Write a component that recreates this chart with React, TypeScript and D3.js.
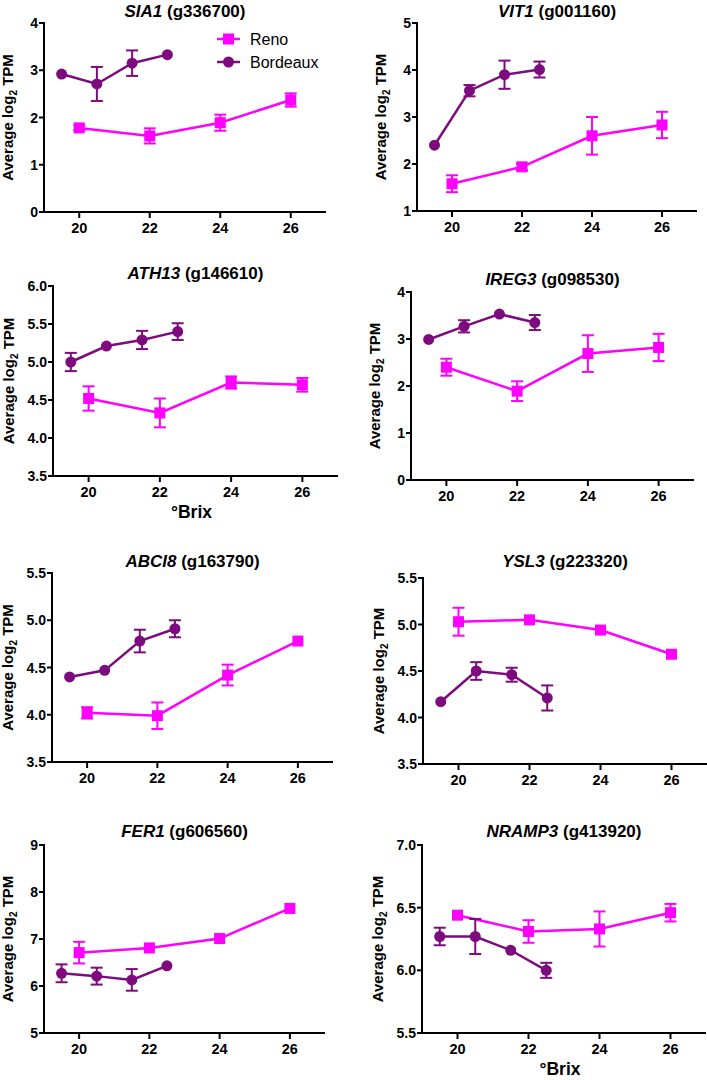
import React from "react";
import * as d3 from "d3";

// ---------- data ----------
const xReno = [20, 22, 24, 26];
const xBordeaux = [19.5, 20.5, 21.5, 22.5];
const xTicks = [20, 22, 24, 26];

const genes = ["SIA1", "VIT1", "ATH13", "IREG3", "ABCI8", "YSL3", "FER1", "NRAMP3"];
const geneIds = ["g336700", "g001160", "g146610", "g098530", "g163790", "g223320", "g606560", "g413920"];

const yDomains = [[0, 4], [1, 5], [3.5, 6], [0, 4], [3.5, 5.5], [3.5, 5.5], [5, 9], [5.5, 7]];
const yTickSteps = [1, 1, 0.5, 1, 0.5, 0.5, 1, 0.5];
const yTickDecimals = [0, 0, 1, 0, 1, 1, 0, 1];

const renoSIA1 = [1.78, 1.61, 1.89, 2.37];
const renoSIA1Err = [0.05, 0.16, 0.17, 0.14];
const bordeauxSIA1 = [2.92, 2.71, 3.15, 3.33];
const bordeauxSIA1Err = [0, 0.36, 0.27, 0];

const renoVIT1 = [1.58, 1.94, 2.6, 2.83];
const renoVIT1Err = [0.18, 0.07, 0.4, 0.28];
const bordeauxVIT1 = [2.4, 3.56, 3.9, 4.01];
const bordeauxVIT1Err = [0, 0.12, 0.3, 0.17];

const renoATH13 = [4.52, 4.33, 4.73, 4.7];
const renoATH13Err = [0.16, 0.19, 0.08, 0.09];
const bordeauxATH13 = [5.0, 5.21, 5.29, 5.4];
const bordeauxATH13Err = [0.12, 0, 0.12, 0.11];

const renoIREG3 = [2.4, 1.89, 2.69, 2.82];
const renoIREG3Err = [0.18, 0.21, 0.39, 0.29];
const bordeauxIREG3 = [2.99, 3.27, 3.53, 3.35];
const bordeauxIREG3Err = [0, 0.13, 0, 0.16];

const renoABCI8 = [4.02, 3.99, 4.42, 4.78];
const renoABCI8Err = [0.06, 0.14, 0.11, 0];
const bordeauxABCI8 = [4.4, 4.47, 4.78, 4.91];
const bordeauxABCI8Err = [0, 0, 0.12, 0.09];

const renoYSL3 = [5.03, 5.05, 4.94, 4.68];
const renoYSL3Err = [0.15, 0, 0, 0];
const bordeauxYSL3 = [4.17, 4.5, 4.46, 4.21];
const bordeauxYSL3Err = [0, 0.095, 0.075, 0.135];

const renoFER1 = [6.71, 6.81, 7.01, 7.65];
const renoFER1Err = [0.23, 0, 0, 0];
const bordeauxFER1 = [6.27, 6.21, 6.13, 6.43];
const bordeauxFER1Err = [0.19, 0.18, 0.23, 0];

const renoNRAMP3 = [6.44, 6.31, 6.33, 6.46];
const renoNRAMP3Err = [0, 0.09, 0.14, 0.07];
const bordeauxNRAMP3 = [6.27, 6.27, 6.16, 6.0];
const bordeauxNRAMP3Err = [0.07, 0.14, 0, 0.06];

const renoMeans = [renoSIA1, renoVIT1, renoATH13, renoIREG3, renoABCI8, renoYSL3, renoFER1, renoNRAMP3];
const renoErrs = [renoSIA1Err, renoVIT1Err, renoATH13Err, renoIREG3Err, renoABCI8Err, renoYSL3Err, renoFER1Err, renoNRAMP3Err];
const bordeauxMeans = [bordeauxSIA1, bordeauxVIT1, bordeauxATH13, bordeauxIREG3, bordeauxABCI8, bordeauxYSL3, bordeauxFER1, bordeauxNRAMP3];
const bordeauxErrs = [bordeauxSIA1Err, bordeauxVIT1Err, bordeauxATH13Err, bordeauxIREG3Err, bordeauxABCI8Err, bordeauxYSL3Err, bordeauxFER1Err, bordeauxNRAMP3Err];

const seriesNames = ["Reno", "Bordeaux"];

// ---------- layout / style ----------
const W = 707;
const H = 1080;
const layouts = [
  { l: 44, r: 326, t: 23, b: 212, ty: 16.5, brix: false },
  { l: 417, r: 697, t: 23, b: 211, ty: 16.5, brix: false },
  { l: 53, r: 338, t: 286, b: 476, ty: 279, brix: true },
  { l: 411, r: 694, t: 292, b: 480, ty: 285, brix: false },
  { l: 52, r: 333, t: 573, b: 762, ty: 567, brix: false },
  { l: 423, r: 707, t: 578, b: 764, ty: 567, brix: false },
  { l: 44, r: 325, t: 845, b: 1033, ty: 837, brix: false },
  { l: 422, r: 706, t: 845, b: 1033, ty: 837, brix: true },
];
const RENO = "#ff00ff";
const BORD = "#7d0b7d";
const FONT = "'Liberation Sans', Arial, Helvetica, sans-serif";

function ErrorBars({ xs, ys, es, x, y, color }) {
  return (
    <g stroke={color} strokeWidth={2} fill="none">
      {xs.map((xv, i) =>
        es[i] > 0 ? (
          <g key={i}>
            <line x1={x(xv)} x2={x(xv)} y1={y(ys[i] - es[i])} y2={y(ys[i] + es[i])} />
            <line x1={x(xv) - 6} x2={x(xv) + 6} y1={y(ys[i] - es[i])} y2={y(ys[i] - es[i])} />
            <line x1={x(xv) - 6} x2={x(xv) + 6} y1={y(ys[i] + es[i])} y2={y(ys[i] + es[i])} />
          </g>
        ) : null
      )}
    </g>
  );
}

function Panel({ idx }) {
  const L = layouts[idx];
  const x = d3.scaleLinear().domain([19, 27]).range([L.l, L.r]);
  const y = d3.scaleLinear().domain(yDomains[idx]).range([L.b, L.t]);
  const [y0, y1] = yDomains[idx];
  const step = yTickSteps[idx];
  const yTicks = d3.range(y0, y1 + step / 2, step);
  const line = d3.line<number>();
  const renoPts = xReno.map((xv, i) => [x(xv), y(renoMeans[idx][i])] as [number, number]);
  const bordPts = xBordeaux.map((xv, i) => [x(xv), y(bordeauxMeans[idx][i])] as [number, number]);
  const dec = yTickDecimals[idx];
  const labelOffset = dec > 0 ? 44 : 36;
  const cx = (L.l + L.r) / 2;
  const cy = (L.t + L.b) / 2;
  return (
    <g>
      {/* title */}
      <text x={cx} y={L.ty} textAnchor="middle" fontSize={17} fontWeight="bold" fontFamily={FONT}>
        <tspan fontStyle="italic">{genes[idx]}</tspan>
        <tspan>{` (${geneIds[idx]})`}</tspan>
      </text>
      {/* axes */}
      <g stroke="#000" strokeWidth={2} fill="none">
        <line x1={L.l} x2={L.l} y1={L.t - 1} y2={L.b + 1} />
        <line x1={L.l - 1} x2={L.r} y1={L.b} y2={L.b} />
        {yTicks.map((t) => (
          <line key={t} x1={L.l - 5} x2={L.l} y1={y(t)} y2={y(t)} />
        ))}
        {xTicks.map((t) => (
          <line key={t} x1={x(t)} x2={x(t)} y1={L.b} y2={L.b + 6} />
        ))}
      </g>
      {yTicks.map((t) => (
        <text key={t} x={L.l - 6} y={y(t)} dy="0.36em" textAnchor="end" fontSize={14} fontWeight="bold" fontFamily={FONT}>
          {t.toFixed(dec)}
        </text>
      ))}
      {xTicks.map((t) => (
        <text key={t} x={x(t)} y={L.b + 21} textAnchor="middle" fontSize={14.5} fontWeight="bold" fontFamily={FONT}>
          {t}
        </text>
      ))}
      {/* y label */}
      <text
        transform={`translate(${L.l - labelOffset},${cy}) rotate(-90)`}
        dy="0.36em"
        textAnchor="middle"
        fontSize={15}
        fontWeight="bold"
        fontFamily={FONT}
      >
        Average log<tspan fontSize={10} dy="0.35em">2</tspan>
        <tspan dy="-0.25em"> TPM</tspan>
      </text>
      {L.brix ? (
        <text x={cx - 4} y={L.b + 42} textAnchor="middle" fontSize={17.5} fontWeight="bold" fontFamily={FONT}>
          °Brix
        </text>
      ) : null}
      {/* Reno */}
      <ErrorBars xs={xReno} ys={renoMeans[idx]} es={renoErrs[idx]} x={x} y={y} color={RENO} />
      <path d={line(renoPts) || ""} stroke={RENO} strokeWidth={2.5} fill="none" />
      {renoPts.map((p, i) => (
        <rect key={i} x={p[0] - 5.5} y={p[1] - 5.5} width={11} height={11} fill={RENO} />
      ))}
      {/* Bordeaux */}
      <ErrorBars xs={xBordeaux} ys={bordeauxMeans[idx]} es={bordeauxErrs[idx]} x={x} y={y} color={BORD} />
      <path d={line(bordPts) || ""} stroke={BORD} strokeWidth={2.5} fill="none" />
      {bordPts.map((p, i) => (
        <circle key={i} cx={p[0]} cy={p[1]} r={5.5} fill={BORD} />
      ))}
    </g>
  );
}

function Legend() {
  const items = [
    { name: seriesNames[0], color: RENO, shape: "square", y: 39 },
    { name: seriesNames[1], color: BORD, shape: "circle", y: 62 },
  ];
  return (
    <g>
      {items.map((it) => (
        <g key={it.name}>
          <line x1={217} x2={240} y1={it.y} y2={it.y} stroke={it.color} strokeWidth={2.5} />
          {it.shape === "square" ? (
            <rect x={228.5 - 5.5} y={it.y - 5.5} width={11} height={11} fill={it.color} />
          ) : (
            <circle cx={228.5} cy={it.y} r={5.5} fill={it.color} />
          )}
          <text x={250} y={it.y} dy="0.36em" fontSize={16} fontFamily={FONT}>
            {it.name}
          </text>
        </g>
      ))}
    </g>
  );
}

export default function App() {
  return (
    <svg
      width={W}
      height={H}
      viewBox={`0 0 ${W} ${H}`}
      style={{ position: "absolute", left: 0, top: 0, background: "#fff" }}
    >
      <rect width={W} height={H} fill="#fff" />
      {genes.map((g, i) => (
        <Panel key={g} idx={i} />
      ))}
      <Legend />
    </svg>
  );
}
